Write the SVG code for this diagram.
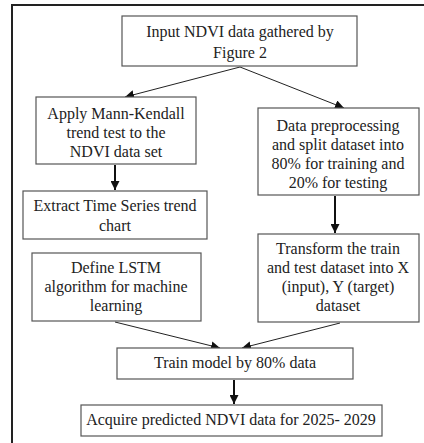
<svg xmlns="http://www.w3.org/2000/svg" width="424" height="443" viewBox="0 0 424 443">
<style>
.box{fill:#fff;stroke:#555;stroke-width:1.2}
.t{font-family:"Liberation Serif","Times New Roman",serif;font-size:16px;fill:#222;text-anchor:middle}
.c{stroke:#222;stroke-width:1;fill:none}
.cv{stroke:#111;stroke-width:2;fill:none}
</style>
<defs>
<marker id="ah" viewBox="0 0 10 10" refX="10" refY="5" markerWidth="9" markerHeight="9" markerUnits="userSpaceOnUse" orient="auto">
<path d="M0,0 L10,5 L0,10 z" fill="#111"/>
</marker>
</defs>
<rect width="424" height="443" fill="#fff"/>
<path d="M12,443 L12,5 L424,5" fill="none" stroke="#222" stroke-width="2"/>
<g id="connectors">
<line class="c" x1="240" y1="67" x2="125" y2="97" marker-end="url(#ah)"/>
<line class="c" x1="240" y1="67" x2="344" y2="108" marker-end="url(#ah)"/>
<line class="cv" x1="115" y1="165" x2="115" y2="190" marker-end="url(#ah)"/>
<line class="cv" x1="335" y1="196" x2="335" y2="233" marker-end="url(#ah)"/>
<line class="c" x1="115" y1="322" x2="220" y2="348" marker-end="url(#ah)"/>
<line class="c" x1="340" y1="323" x2="242" y2="348" marker-end="url(#ah)"/>
<line class="cv" x1="234" y1="380" x2="234" y2="404" marker-end="url(#ah)"/>
</g>
<g id="n1"><rect class="box" x="122" y="16" width="235" height="50"/>
<text class="t" x="240" y="37">Input NDVI data gathered by</text>
<text class="t" x="240" y="58">Figure 2</text></g>
<g id="n2"><rect class="box" x="36" y="97" width="160" height="67"/>
<text class="t" x="116" y="119">Apply Mann-Kendall</text>
<text class="t" x="116" y="138">trend test to the</text>
<text class="t" x="116" y="157">NDVI data set</text></g>
<g id="n3"><rect class="box" x="258" y="108" width="161" height="87"/>
<text class="t" x="338" y="131">Data preprocessing</text>
<text class="t" x="338" y="150">and split dataset into</text>
<text class="t" x="338" y="169">80% for training and</text>
<text class="t" x="338" y="188">20% for testing</text></g>
<g id="n4"><rect class="box" x="23" y="191" width="184" height="48"/>
<text class="t" x="115" y="211">Extract Time Series trend</text>
<text class="t" x="115" y="231">chart</text></g>
<g id="n5"><rect class="box" x="32" y="253" width="169" height="68"/>
<text class="t" x="116" y="273">Define LSTM</text>
<text class="t" x="116" y="292">algorithm for machine</text>
<text class="t" x="116" y="311">learning</text></g>
<g id="n6"><rect class="box" x="258" y="234" width="161" height="88"/>
<text class="t" x="338" y="254">Transform the train</text>
<text class="t" x="338" y="273">and test dataset into X</text>
<text class="t" x="338" y="292">(input), Y (target)</text>
<text class="t" x="338" y="311">dataset</text></g>
<g id="n7"><rect class="box" x="117" y="348" width="236" height="31"/>
<text class="t" x="235" y="368">Train model by 80% data</text></g>
<g id="n8"><rect class="box" x="81" y="405" width="301" height="31"/>
<text class="t" x="231" y="425">Acquire predicted NDVI data for 2025- 2029</text></g>
</svg>
